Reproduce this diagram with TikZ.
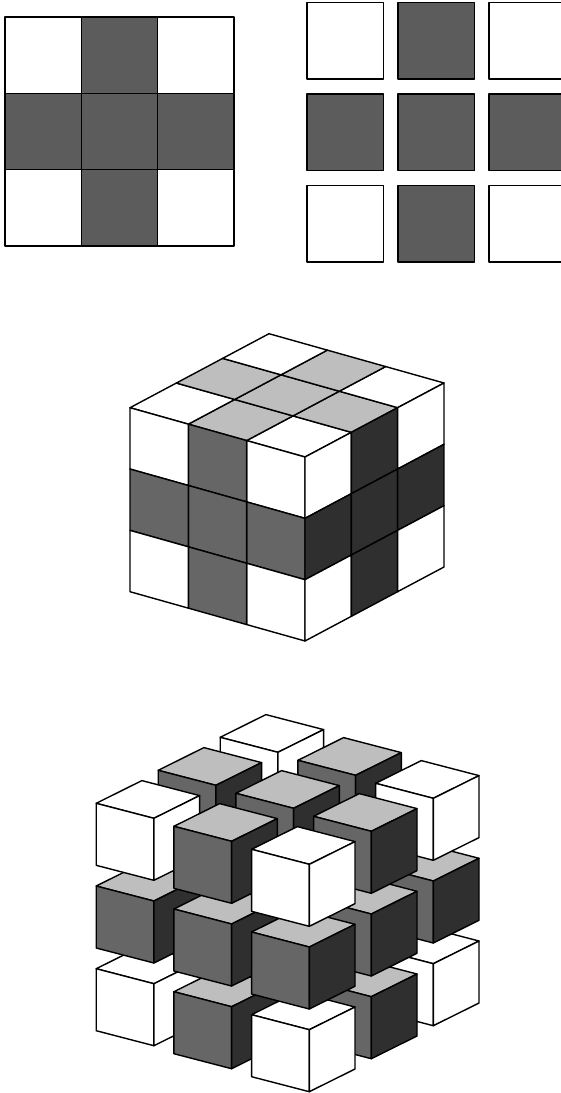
\documentclass[tikz,border=0pt]{standalone}
\definecolor{flatgray}{HTML}{5C5C5C}
\definecolor{topgray}{HTML}{BEBEBE}
\definecolor{leftgray}{HTML}{666666}
\definecolor{rightgray}{HTML}{2F2F2F}
\newcommand{\facecell}[3]{\filldraw[cellline, fill=#3] (#1,#2) -- ++(1,0) -- ++(0,1) -- ++(-1,0) -- cycle;}
\newcommand{\cubelet}[5]{%
  \filldraw[cellline, fill=#3] (#1,#2) -- ++(-57.7,15) -- ++(45.7,22.7) -- ++(57.7,-15) -- cycle;
  \filldraw[cellline, fill=#4] (#1,#2) -- ++(-57.7,15) -- ++(0,-62) -- ++(57.7,-15) -- cycle;
  \filldraw[cellline, fill=#5] (#1,#2) -- ++(45.7,22.7) -- ++(0,-62) -- ++(-45.7,-22.7) -- cycle;
}
\begin{document}
\begin{tikzpicture}[
  x=1pt, y=1pt,
  cellline/.style={draw=black, line width=1.4pt, line join=round}
]
\clip (0,-1093) rectangle (561,0);
% flat square
\foreach \c in {0,1,2}{
  \foreach \r in {0,1,2}{
    \pgfmathtruncatemacro{\corner}{(\c!=1)&&(\r!=1)}
    \ifnum\corner=1 \def\cellfill{white}\else \def\cellfill{flatgray}\fi
    \filldraw[cellline, fill=\cellfill] (5+76.33*\c,-17-76.33*\r) rectangle ++(76.33,-76.33);
  }
}
% separated squares
\foreach \c in {0,1,2}{
  \foreach \r in {0,1,2}{
    \pgfmathtruncatemacro{\corner}{(\c!=1)&&(\r!=1)}
    \ifnum\corner=1 \def\cellfill{white}\else \def\cellfill{flatgray}\fi
    \filldraw[cellline, fill=\cellfill] (307+91*\c,-2.5-91.5*\r) rectangle ++(76.5,-76.5);
  }
}
% solid cube
\foreach \a in {0,1,2}{
  \foreach \b in {0,1,2}{
    \pgfmathtruncatemacro{\corner}{(\a!=1)&&(\b!=1)}
    \ifnum\corner=1 \def\topfill{white}\def\leftfill{white}\def\rightfill{white}
    \else \def\topfill{topgray}\def\leftfill{leftgray}\def\rightfill{rightgray}\fi
    \begin{scope}[shift={(305,-457)}, x={(-58.33pt,16.43pt)}, y={(46.33pt,24.67pt)}]
      \facecell{\a}{\b}{\topfill}
    \end{scope}
    \begin{scope}[shift={(305,-457)}, x={(-58.33pt,16.43pt)}, y={(0pt,-61.33pt)}]
      \facecell{\a}{\b}{\leftfill}
    \end{scope}
    \begin{scope}[shift={(305,-457)}, x={(46.33pt,24.67pt)}, y={(0pt,-61.33pt)}]
      \facecell{\a}{\b}{\rightfill}
    \end{scope}
  }
}
% exploded cube, far cubes first
\foreach \k in {2,1,0}{
  \foreach \i in {2,1,0}{
    \foreach \j in {2,1,0}{
      \pgfmathsetmacro{\px}{309.3-77.7*\i+62*\j}
      \pgfmathsetmacro{\py}{-864.3+23*\i+33*\j-82.7*\k}
      \pgfmathtruncatemacro{\corner}{(\i!=1)&&(\j!=1)&&(\k!=1)}
      \ifnum\corner=1
        \cubelet{\px}{\py}{white}{white}{white}
      \else
        \cubelet{\px}{\py}{topgray}{leftgray}{rightgray}
      \fi
    }
  }
}
\end{tikzpicture}
\end{document}
